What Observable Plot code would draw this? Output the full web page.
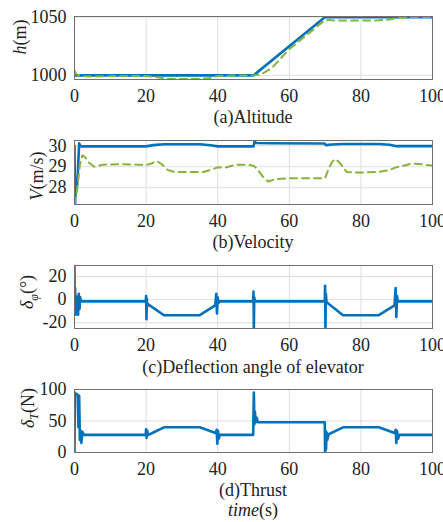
<!DOCTYPE html>
<html><head><meta charset="utf-8">
<script src="https://cdn.jsdelivr.net/npm/d3@7"></script>
<script src="https://cdn.jsdelivr.net/npm/@observablehq/plot@0.6"></script>
<style>
body{margin:0;background:#fff;}
#wrap{position:relative;width:443px;height:522px;overflow:hidden;font-family:"Liberation Serif","Times New Roman",serif;color:#222;background:#fff;}
.panel{position:absolute;left:0;}
.cap{position:absolute;left:74px;width:358px;text-align:center;font-size:18px;line-height:16px;white-space:nowrap;}
</style></head><body><div id="wrap"></div>
<script>
// ---------- data ----------
const xTicks = [0, 20, 40, 60, 80, 100];

// (a) Altitude
const hBlueT = [0, 50, 70, 100];
const hBlueV = [1000, 1000, 1050, 1050];
const hGreenT = [0, 0.5, 2, 5, 10, 20, 23, 26, 30, 35, 38, 40, 45, 50, 52, 55, 60, 65, 70, 71, 73, 75, 80, 85, 88, 90, 95, 100];
const hGreenV = [1004, 1001, 999.5, 999.0, 999.4, 999.4, 998.5, 997.2, 997.0, 997.1, 997.8, 999.6, 1000, 1000, 1000.8, 1006, 1022.5, 1035, 1047.5, 1047.5, 1047, 1047, 1047, 1047.2, 1048, 1049.3, 1050, 1050];

// (b) Velocity
const vBlueT = [0, 0.15, 0.4, 0.6, 0.9, 1.3, 1.7, 20, 22, 25, 35, 38, 40, 50, 50.3, 50.8, 55, 69.8, 70.2, 72, 75, 85, 88, 90, 100];
const vBlueV = [30.0, 27.2, 28.3, 27.9, 28.6, 30.12, 29.97, 29.97, 30.03, 30.07, 30.07, 30.02, 29.97, 29.97, 30.2, 30.13, 30.12, 30.11, 30.03, 30.06, 30.08, 30.08, 30.05, 29.98, 29.98];
const vGreenT = [0, 0.5, 1, 1.5, 2.2, 3, 4, 5.5, 8, 12, 18, 20, 21.5, 23, 24.5, 26, 28, 32, 36, 38, 40, 42, 45, 48, 50, 51, 52.5, 54, 56, 60, 65, 70, 71, 72, 73, 74.5, 76, 80, 85, 88, 90, 92, 94, 97, 100];
const vGreenV = [27.2, 27.6, 28.3, 29.1, 29.55, 29.45, 29.2, 29.0, 29.1, 29.12, 29.1, 29.08, 29.15, 29.28, 29.1, 28.85, 28.75, 28.75, 28.75, 28.85, 28.97, 28.95, 29.1, 29.1, 29.05, 28.9, 28.55, 28.3, 28.4, 28.45, 28.45, 28.45, 28.9, 29.25, 29.37, 29.1, 28.75, 28.72, 28.75, 28.85, 28.98, 29.05, 29.15, 29.12, 29.05];

// (c) Deflection angle of elevator
const eT = [0, 0.05, 0.15, 0.3, 0.45, 0.6, 0.8, 1.0, 1.2, 1.4, 1.6, 1.8, 2.2,
  19.9, 20.0, 20.1, 20.2, 20.3, 20.6, 21, 25, 35, 39.3, 39.6, 39.8, 40.0, 40.2, 40.5,
  49.9, 50.0, 50.1, 50.2, 50.4, 69.9, 70.0, 70.1, 70.2, 70.4, 70.7, 75, 85, 89.4, 89.7, 89.9, 90.1, 90.3, 90.6, 100];
const eV = [30, -12, 10, -13, 3, -12, -2, -13, 5, -8, 2, -1.5, -1.5,
  -1.5, 3, -17, 1, -6, -4, -5, -13.5, -13.5, -5, 5, -12, 2, -3, -1.5,
  -1.5, 7, -25, 2, -1.5, -1.5, 12, -25, 5, -2, -3, -13.5, -13.5, -5, 10, -15, 3, -2, -1.5, -1.5];

// (d) Thrust
const tT = [0, 0.1, 0.3, 0.6, 0.9, 1.1, 1.3, 1.5, 1.7, 1.9, 2.2, 2.6,
  19.9, 20.0, 20.15, 20.3, 20.5, 21, 25, 35, 39.4, 39.7, 39.9, 40.1, 40.3, 40.6,
  49.9, 50.1, 50.25, 50.4, 50.6, 50.9, 51.2, 69.9, 70.0, 70.1, 70.25, 70.4, 70.6, 71, 75, 85, 89.4, 89.7, 89.9, 90.1, 90.4, 90.7, 100];
const tV = [0, 95, 92, 93, 91, 40, 90, 20, 35, 15, 33, 28,
  28, 37, 23, 35, 28, 29, 40, 40, 31, 36, 14, 34, 22, 28,
  28, 95, 45, 65, 48, 55, 48, 48, 0, 35, 5, 32, 20, 29, 40, 40, 31, 36, 15, 34, 22, 28, 28];

const captions = ["(a)Altitude", "(b)Velocity", "(c)Deflection angle of elevator", "(d)Thrust"];
const yLabels = [
  [{t: "h", i: true}, {t: "(m)"}],
  [{t: "V", i: true}, {t: "(m/s)"}],
  [{t: "δ", i: true}, {t: "φ", i: true, sub: true}, {t: "(°)"}],
  [{t: "δ", i: true}, {t: "T", i: true, sub: true}, {t: "(N)"}]
];

const BLUE = "#0072BD", GREEN = "#86B33A";
const pts = (T, V) => T.map((t, k) => ({t, v: V[k]}));

const panels = [
  {top: 0, mt: 16, fh: 63, dom: [996.5, 1050.5], ticks: [1000, 1050],
   series: [{d: pts(hBlueT, hBlueV), c: BLUE}, {d: pts(hGreenT, hGreenV), c: GREEN, dash: true}],
   lab: [20, 37], capY: 109},
  {top: 128, mt: 12, fh: 64, dom: [27.2, 30.25], ticks: [28, 29, 30],
   series: [{d: pts(vBlueT, vBlueV), c: BLUE}, {d: pts(vGreenT, vGreenV), c: GREEN, dash: true}],
   lab: [37, 48], capY: 234},
  {top: 254, mt: 11, fh: 63, dom: [-25, 29.5], ticks: [-20, 0, 20],
   series: [{d: pts(eT, eV), c: BLUE}],
   lab: [27, 38], capY: 359},
  {top: 378, mt: 11, fh: 63, dom: [0, 100], ticks: [0, 50, 100],
   series: [{d: pts(tT, tV), c: BLUE}],
   lab: [27.5, 30], capY: 482}
];

const wrap = document.getElementById("wrap");
panels.forEach((p, idx) => {
  const mb = 26;
  const marks = [
    Plot.gridX(xTicks, {stroke: "#dedede", strokeOpacity: 1}),
    Plot.gridY(p.ticks, {stroke: "#dedede", strokeOpacity: 1}),
    Plot.axisX(xTicks, {tickSize: 0, tickPadding: 10, tickFormat: d => String(d), fill: "#222", label: null}),
    Plot.axisY(p.ticks, {tickSize: 0, tickPadding: 8, tickFormat: d => String(d), fill: "#222", label: null}),
  ];
  // blue first, green dashed drawn on top so both stay visible where they coincide
  p.series.forEach(s => {
    marks.push(Plot.line(s.d, {x: "t", y: "v", stroke: s.c, strokeWidth: s.dash ? 2 : 2.6,
      strokeDasharray: s.dash ? "7,5" : null, clip: true, strokeLinejoin: "round"}));
  });
  marks.push(Plot.frame({stroke: "#707070", strokeWidth: 1}));
  const chart = Plot.plot({
    width: 443, height: p.mt + p.fh + mb,
    marginLeft: 74, marginRight: 11, marginTop: p.mt, marginBottom: mb,
    style: {fontFamily: "'Liberation Serif', 'Times New Roman', serif", fontSize: "18px", color: "#222", background: "transparent", overflow: "visible"},
    x: {domain: [0, 100]},
    y: {domain: p.dom},
    marks
  });
  const div = document.createElement("div");
  div.className = "panel";
  div.style.top = p.top + "px";
  div.appendChild(chart);
  wrap.appendChild(div);
  const txt = d3.select(chart).append("text")
    .attr("transform", `translate(${p.lab[0]},${p.lab[1]}) rotate(-90)`)
    .attr("text-anchor", "middle").attr("dy", "0.35em")
    .attr("fill", "#222").style("font-size", "18px");
  let shifted = false;
  yLabels[idx].forEach(part => {
    const ts = txt.append("tspan").text(part.t);
    if (part.i) ts.attr("font-style", "italic");
    if (part.sub) { ts.attr("dy", "0.35em").style("font-size", "12px"); shifted = true; }
    else if (shifted) { ts.attr("dy", "-0.23em"); shifted = false; }
  });
  const cap = document.createElement("div");
  cap.className = "cap";
  cap.style.top = p.capY + "px";
  cap.textContent = captions[idx];
  wrap.appendChild(cap);
});
const tl = document.createElement("div");
tl.className = "cap";
tl.style.top = "502px";
tl.innerHTML = "<i>time</i>(s)";
wrap.appendChild(tl);
</script>
</body></html>
